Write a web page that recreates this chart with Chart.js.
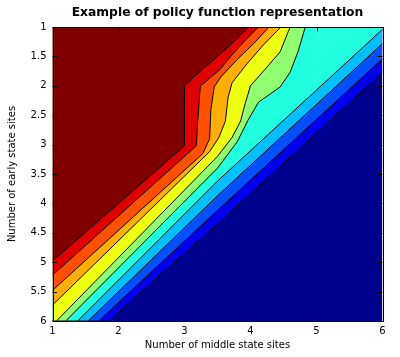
<!DOCTYPE html>
<html><head><meta charset="utf-8">
<script src="https://cdn.jsdelivr.net/npm/chart.js@4"></script>
<style>html,body{margin:0;padding:0;background:#fff;}#wrap{width:400px;height:357px;position:relative;}</style>
</head><body><div id="wrap"><canvas id="c"></canvas></div>
<script>
// Axis ticks
const xTicks = [1, 2, 3, 4, 5, 6];
const yTicks = [1, 1.5, 2, 2.5, 3, 3.5, 4, 4.5, 5, 5.5, 6];

// Contour boundaries (x = middle state sites, y = early state sites)
const contourBase = [[1, 6], [6, 6]];
const contour1 = [[1, 4.98], [3, 3.02], [3, 2.0], [3.22, 1.77], [3.5, 1.5], [3.75, 1.25], [3.98, 1]];
const contour2 = [[1, 5.22], [3.18, 3.02], [3.2, 2.6], [3.24, 2.0], [3.3, 1.95], [3.54, 1.72], [3.7, 1.5], [3.9, 1.25], [4.12, 1]];
const contour3 = [[1, 5.48], [3.28, 3.15], [3.38, 2.9], [3.4, 2.4], [3.45, 2.02], [3.55, 1.85], [3.8, 1.55], [4.05, 1.28], [4.28, 1]];
const contour4 = [[1, 5.73], [3.38, 3.12], [3.52, 2.88], [3.62, 2.6], [3.66, 2.2], [3.72, 1.95], [3.95, 1.62], [4.2, 1.3], [4.46, 1]];
const contour5 = [[1, 6], [1.06, 6], [3.5, 3.2], [3.72, 2.88], [3.85, 2.6], [3.92, 2.3], [4.0, 2.0], [4.22, 1.72], [4.45, 1.42], [4.6, 1]];
const contour6 = [[1, 6], [1.2, 6], [3.5, 3.4], [3.8, 2.95], [3.96, 2.59], [4.12, 2.28], [4.45, 2.02], [4.6, 1.77], [4.72, 1.42], [4.83, 1]];
const contour7 = [[1, 6], [1.38, 6], [3.5, 3.62], [6, 1.04]];
const contour8 = [[1, 6], [1.54, 6], [3.5, 3.87], [6, 1.28]];
const contour9 = [[1, 6], [1.70, 6], [3.5, 4.12], [6, 1.54]];
const contour10 = [[1, 6], [1.85, 6], [3.5, 4.35], [6, 1.77]];

// Fill colours (jet colormap), lowest level first
const levelColors = ['#00008F', '#0000EF', '#0050FF', '#00BFFF', '#20FFDF', '#90FF70', '#EFFF10', '#FFAF00', '#FF5000', '#DF0000', '#800000'];

const contours = [contour1, contour2, contour3, contour4, contour5, contour6, contour7, contour8, contour9, contour10];

// region above/left of contour k gets colour of level (11 - k); base gets level 0
const datasets = contours.map((c, i) => ({
  data: c.map(p => ({x: p[0], y: p[1]})),
  showLine: true, borderColor: '#000', borderWidth: 1, pointRadius: 0, tension: 0,
  fill: {value: 1}, backgroundColor: levelColors[levelColors.length - 1 - i]
}));
datasets.push({
  data: contourBase.map(p => ({x: p[0], y: p[1]})),
  showLine: true, borderWidth: 0, borderColor: 'rgba(0,0,0,0)', pointRadius: 0,
  fill: {value: 1}, backgroundColor: levelColors[0]
});

const FONT = 'DejaVu Sans';

const framePlugin = {
  id: 'frame',
  afterDatasetsDraw(chart) {
    const {ctx, chartArea: a, scales} = chart;
    ctx.save();
    ctx.strokeStyle = '#000';
    ctx.lineWidth = 1;
    ctx.beginPath();
    const L = 4.5;
    xTicks.forEach(v => {
      const px = Math.round(scales.x.getPixelForValue(v)) + 0.5;
      ctx.moveTo(px, a.bottom); ctx.lineTo(px, a.bottom - L);
      ctx.moveTo(px, a.top); ctx.lineTo(px, a.top + L);
    });
    yTicks.forEach(v => {
      const py = Math.round(scales.y.getPixelForValue(v)) + 0.5;
      ctx.moveTo(a.left, py); ctx.lineTo(a.left + L, py);
      ctx.moveTo(a.right, py); ctx.lineTo(a.right - L, py);
    });
    ctx.stroke();
    ctx.strokeRect(Math.round(a.left) + 0.5, Math.round(a.top) + 0.5, Math.round(a.right - a.left), Math.round(a.bottom - a.top));
    ctx.restore();
  }
};

new Chart(document.getElementById('c'), {
  type: 'scatter',
  data: {datasets},
  options: {
    responsive: true, maintainAspectRatio: false, animation: false,
    layout: {padding: {left: 0, right: 0, top: 0, bottom: 0}},
    plugins: {
      legend: {display: false}, tooltip: {enabled: false},
      title: {display: true, fullSize: false, text: 'Example of policy function representation', color: '#000',
        font: {family: FONT, size: 12.3, weight: 'bold'}, padding: {top: 5, bottom: 7.24}}
    },
    scales: {
      x: {
        type: 'linear', min: 1, max: 6,
        afterBuildTicks: s => { s.ticks = xTicks.map(v => ({value: v})); },
        afterFit: s => { s.height = 36; },
        grid: {display: false, drawTicks: false}, border: {display: false},
        ticks: {color: '#000', font: {family: FONT, size: 10}, padding: 4, maxRotation: 0, callback: v => String(v)},
        title: {display: true, text: 'Number of middle state sites', color: '#000', font: {family: FONT, size: 10}, padding: {top: 0, bottom: 6}}
      },
      y: {
        type: 'linear', reverse: true, min: 1, max: 6,
        afterBuildTicks: s => { s.ticks = yTicks.map(v => ({value: v})); },
        afterFit: s => { s.width = 52.5; },
        grid: {display: false, drawTicks: false}, border: {display: false},
        ticks: {color: '#000', font: {family: FONT, size: 10}, padding: 6, callback: v => String(v)},
        title: {display: true, text: 'Number of early state sites', color: '#000', font: {family: FONT, size: 10}, padding: {top: 6, bottom: 0}}
      },
      yR: {
        type: 'linear', position: 'right', display: true,
        afterFit: s => { s.width = 17.5; },
        grid: {display: false, drawTicks: false}, border: {display: false},
        ticks: {display: false}
      }
    }
  },
  plugins: [framePlugin]
});
</script></body></html>
